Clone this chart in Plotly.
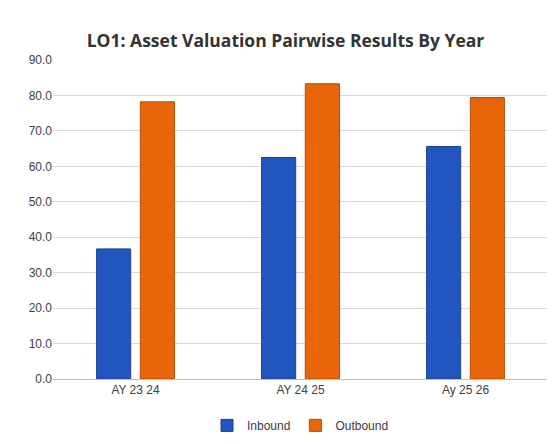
import plotly.graph_objects as go

years    = ['AY 23 24', 'AY 24 25', 'Ay 25 26']
inbound  = [36.7, 62.5, 65.6]
outbound = [78.2, 83.3, 79.4]

fig = go.Figure()
fig.add_trace(go.Bar(x=years, y=inbound, name='Inbound',
                     marker=dict(color='#2155BF', line=dict(color='#1A3F8F', width=1))))
fig.add_trace(go.Bar(x=years, y=outbound, name='Outbound',
                     marker=dict(color='#E8650A', line=dict(color='#B54F08', width=1))))

fig.update_layout(
    width=555, height=444,
    title=dict(text='<b>LO1: Asset Valuation Pairwise Results By Year</b>',
               x=0.5, xanchor='center', y=0.925, yanchor='middle',
               font=dict(size=17.5, color='#333333', family='Open Sans')),
    font=dict(family='Liberation Sans', size=12, color='#404040'),
    paper_bgcolor='white', plot_bgcolor='white',
    margin=dict(l=45, r=15, t=52, b=66),
    bargap=0.47, bargroupgap=0.22,
    legend=dict(orientation='h', x=0.5, xanchor='center', y=-0.1, yanchor='top',
                font=dict(size=12), itemwidth=30),
    showlegend=True,
)
fig.update_yaxes(range=[0, 90], dtick=10, tickformat='.1f', showgrid=True,
                 gridcolor='#D9D9D9', zeroline=False, ticks='')
fig.update_xaxes(showline=True, linecolor='#BFBFBF', linewidth=1)

fig.write_html("out.html")
